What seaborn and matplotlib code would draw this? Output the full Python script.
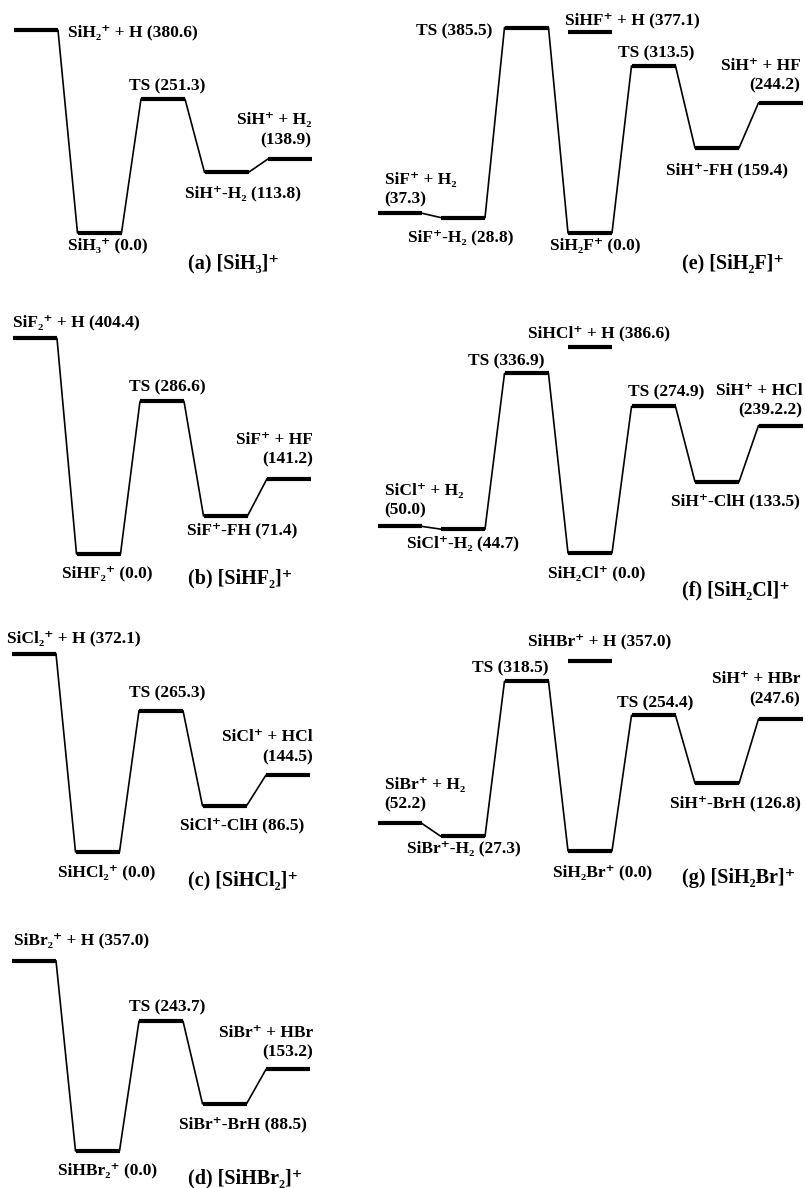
import matplotlib
matplotlib.use('Agg')
import matplotlib.pyplot as plt
import seaborn as sns
import pandas as pd

sns.set_theme(style='white')
plt.rcParams['font.family'] = ['Liberation Serif', 'DejaVu Serif']
plt.rcParams['font.weight'] = 'bold'
plt.rcParams['text.color'] = 'black'

# ---- data: relative energies (kJ/mol) along each reaction path ----
a_labels = ['SiH₂⁺ + H (380.6)', 'SiH₃⁺ (0.0)', 'TS (251.3)',
            'SiH⁺-H₂ (113.8)', 'SiH⁺ + H₂\n(138.9)']
a_energy = [380.6, 0.0, 251.3, 113.8, 138.9]

b_labels = ['SiF₂⁺ + H (404.4)', 'SiHF₂⁺ (0.0)', 'TS (286.6)',
            'SiF⁺-FH (71.4)', 'SiF⁺ + HF\n(141.2)']
b_energy = [404.4, 0.0, 286.6, 71.4, 141.2]

c_labels = ['SiCl₂⁺ + H (372.1)', 'SiHCl₂⁺ (0.0)', 'TS (265.3)',
            'SiCl⁺-ClH (86.5)', 'SiCl⁺ + HCl\n(144.5)']
c_energy = [372.1, 0.0, 265.3, 86.5, 144.5]

d_labels = ['SiBr₂⁺ + H (357.0)', 'SiHBr₂⁺ (0.0)', 'TS (243.7)',
            'SiBr⁺-BrH (88.5)', 'SiBr⁺ + HBr\n(153.2)']
d_energy = [357.0, 0.0, 243.7, 88.5, 153.2]

e_labels = ['SiF⁺ + H₂\n(37.3)', 'SiF⁺-H₂ (28.8)', 'TS (385.5)',
            'SiH₂F⁺ (0.0)', 'TS (313.5)', 'SiH⁺-FH (159.4)',
            'SiH⁺ + HF\n(244.2)']
e_energy = [37.3, 28.8, 385.5, 0.0, 313.5, 159.4, 244.2]
e_side_label = 'SiHF⁺ + H (377.1)'
e_side_energy = 377.1

f_labels = ['SiCl⁺ + H₂\n(50.0)', 'SiCl⁺-H₂ (44.7)', 'TS (336.9)',
            'SiH₂Cl⁺ (0.0)', 'TS (274.9)', 'SiH⁺-ClH (133.5)',
            'SiH⁺ + HCl\n(239.2.2)']
f_energy = [50.0, 44.7, 336.9, 0.0, 274.9, 133.5, 239.2]
f_side_label = 'SiHCl⁺ + H (386.6)'
f_side_energy = 386.6

g_labels = ['SiBr⁺ + H₂\n(52.2)', 'SiBr⁺-H₂ (27.3)', 'TS (318.5)',
            'SiH₂Br⁺ (0.0)', 'TS (254.4)', 'SiH⁺-BrH (126.8)',
            'SiH⁺ + HBr\n(247.6)']
g_energy = [52.2, 27.3, 318.5, 0.0, 254.4, 126.8, 247.6]
g_side_label = 'SiHBr⁺ + H (357.0)'
g_side_energy = 357.0

titles = ['(a) [SiH₃]⁺', '(b) [SiHF₂]⁺', '(c) [SiHCl₂]⁺', '(d) [SiHBr₂]⁺',
          '(e) [SiH₂F]⁺', '(f) [SiH₂Cl]⁺', '(g) [SiH₂Br]⁺']

# ---- layout (pixels) ----
W_PX, H_PX = 805, 1188
SP = 63.5      # px between level columns
SC = 0.533     # px per kJ/mol
W = 44 / SP    # level width in column units
FS = 12.5

# label spec: (anchor, dx, dy, ha, va), dy positive = down
specs_all = {
    'a': [('r', 10, 2, 'left', 'center'), ('c', 8, 12, 'center', 'center'),
          ('c', 4, -13, 'center', 'center'), ('c', 16, 21, 'center', 'center'),
          ('r', -1, -11, 'right', 'bottom')],
    'b': [('l', 0, -16, 'left', 'center'), ('c', 9, 19, 'center', 'center'),
          ('c', 5, -14, 'center', 'center'), ('c', 17, 14, 'center', 'center'),
          ('r', 2, -11, 'right', 'bottom')],
    'c': [('l', -5, -15, 'left', 'center'), ('c', 9, 20, 'center', 'center'),
          ('c', 6, -17, 'center', 'center'), ('c', 18, 19, 'center', 'center'),
          ('r', 3, -10, 'right', 'bottom')],
    'd': [('l', 2, -20, 'left', 'center'), ('c', 10, 19, 'center', 'center'),
          ('c', 6, -14, 'center', 'center'), ('c', 18, 21, 'center', 'center'),
          ('r', 3, -9, 'right', 'bottom')],
    'e': [('l', 7, -6, 'left', 'bottom'), ('c', -2, 20, 'center', 'center'),
          ('l', -12, 4, 'right', 'center'), ('c', 5, 12, 'center', 'center'),
          ('c', 3, -13, 'center', 'center'), ('c', 10, 22, 'center', 'center'),
          ('r', -2, -9, 'right', 'bottom'), ('l', -3, -12, 'left', 'center')],
    'f': [('l', 7, -8, 'left', 'bottom'), ('c', 0, 14, 'center', 'center'),
          ('c', -20, -12, 'center', 'center'), ('c', 7, 20, 'center', 'center'),
          ('c', 13, -14, 'center', 'center'), ('c', 18, 20, 'center', 'center'),
          ('r', 0, -7, 'right', 'bottom'), ('l', -40, -14, 'left', 'center')],
    'g': [('l', 7, -11, 'left', 'bottom'), ('c', 1, 12, 'center', 'center'),
          ('c', -16, -13, 'center', 'center'), ('c', 13, 21, 'center', 'center'),
          ('c', 2, -12, 'center', 'center'), ('c', 18, 20, 'center', 'center'),
          ('r', -2, -12, 'right', 'bottom'), ('l', -40, -19, 'left', 'center')],
}

# geometry: x of first level, y of zero level, box l, t, r, b, title x, title y
panels = [
    ('a', a_labels, a_energy, None, None, (14, 233, 0, 0, 370, 275, 188, 263)),
    ('b', b_labels, b_energy, None, None, (13, 554, 0, 275, 370, 590, 188, 578)),
    ('c', c_labels, c_energy, None, None, (12, 852, 0, 590, 370, 880, 188, 880)),
    ('d', d_labels, d_energy, None, None, (12, 1151, 0, 880, 370, 1188, 188, 1178)),
    ('e', e_labels, e_energy, e_side_label, e_side_energy,
     (377.5, 233, 370, 0, 805, 275, 682, 263)),
    ('f', f_labels, f_energy, f_side_label, f_side_energy,
     (377.5, 553, 370, 300, 805, 600, 682, 590)),
    ('g', g_labels, g_energy, g_side_label, g_side_energy,
     (377.5, 851, 370, 600, 805, 900, 682, 878)),
]

fig = plt.figure(figsize=(W_PX / 100, H_PX / 100), dpi=100)

for k, (key, labels, energy, side_lab, side_E, geo) in enumerate(panels):
    x0, yb, bl, bt, br, bb, tx, ty = geo
    ax = fig.add_axes([bl / W_PX, 1 - bb / H_PX, (br - bl) / W_PX, (bb - bt) / H_PX])
    ax.set_xlim((bl - x0) / SP, (br - x0) / SP)
    ax.set_ylim((yb - bb) / SC, (yb - bt) / SC)
    ax.axis('off')

    # horizontal levels and the thin connectors between neighbours
    lev_rows, con_rows = [], []
    for i, E in enumerate(energy):
        lev_rows += [{'seg': i, 'x': i, 'E': E}, {'seg': i, 'x': i + W, 'E': E}]
    for i in range(len(energy) - 1):
        con_rows += [{'seg': i, 'x': i + W, 'E': energy[i]},
                     {'seg': i, 'x': i + 1, 'E': energy[i + 1]}]
    if side_E is not None:
        lev_rows += [{'seg': 99, 'x': 3, 'E': side_E}, {'seg': 99, 'x': 3 + W, 'E': side_E}]

    sns.lineplot(data=pd.DataFrame(con_rows), x='x', y='E', units='seg',
                 estimator=None, sort=False, color='black', linewidth=1.2,
                 solid_capstyle='round', clip_on=False, legend=False, ax=ax)
    sns.lineplot(data=pd.DataFrame(lev_rows), x='x', y='E', units='seg',
                 estimator=None, sort=False, color='black', linewidth=3.0,
                 solid_capstyle='butt', clip_on=False, legend=False, ax=ax)

    specs = specs_all[key]
    all_labels = list(labels) + ([side_lab] if side_lab else [])
    all_E = list(energy) + ([side_E] if side_E is not None else [])
    cols = list(range(len(energy))) + ([3] if side_lab else [])
    for lab, E, c, (anc, dx, dy, ha, va) in zip(all_labels, all_E, cols, specs):
        xa = {'l': c, 'c': c + W / 2, 'r': c + W}[anc]
        ax.annotate(lab, xy=(xa, E), xytext=(dx, -dy), textcoords='offset pixels',
                    ha=ha, va=va, fontsize=FS, fontweight='bold', color='black',
                    multialignment=ha, linespacing=1.3, annotation_clip=False)

    fig.text(tx / W_PX, 1 - ty / H_PX, titles[k], ha='left', va='center',
             fontsize=14.5, fontweight='bold', color='black')

fig.savefig('out.png', dpi=100, facecolor='white')
